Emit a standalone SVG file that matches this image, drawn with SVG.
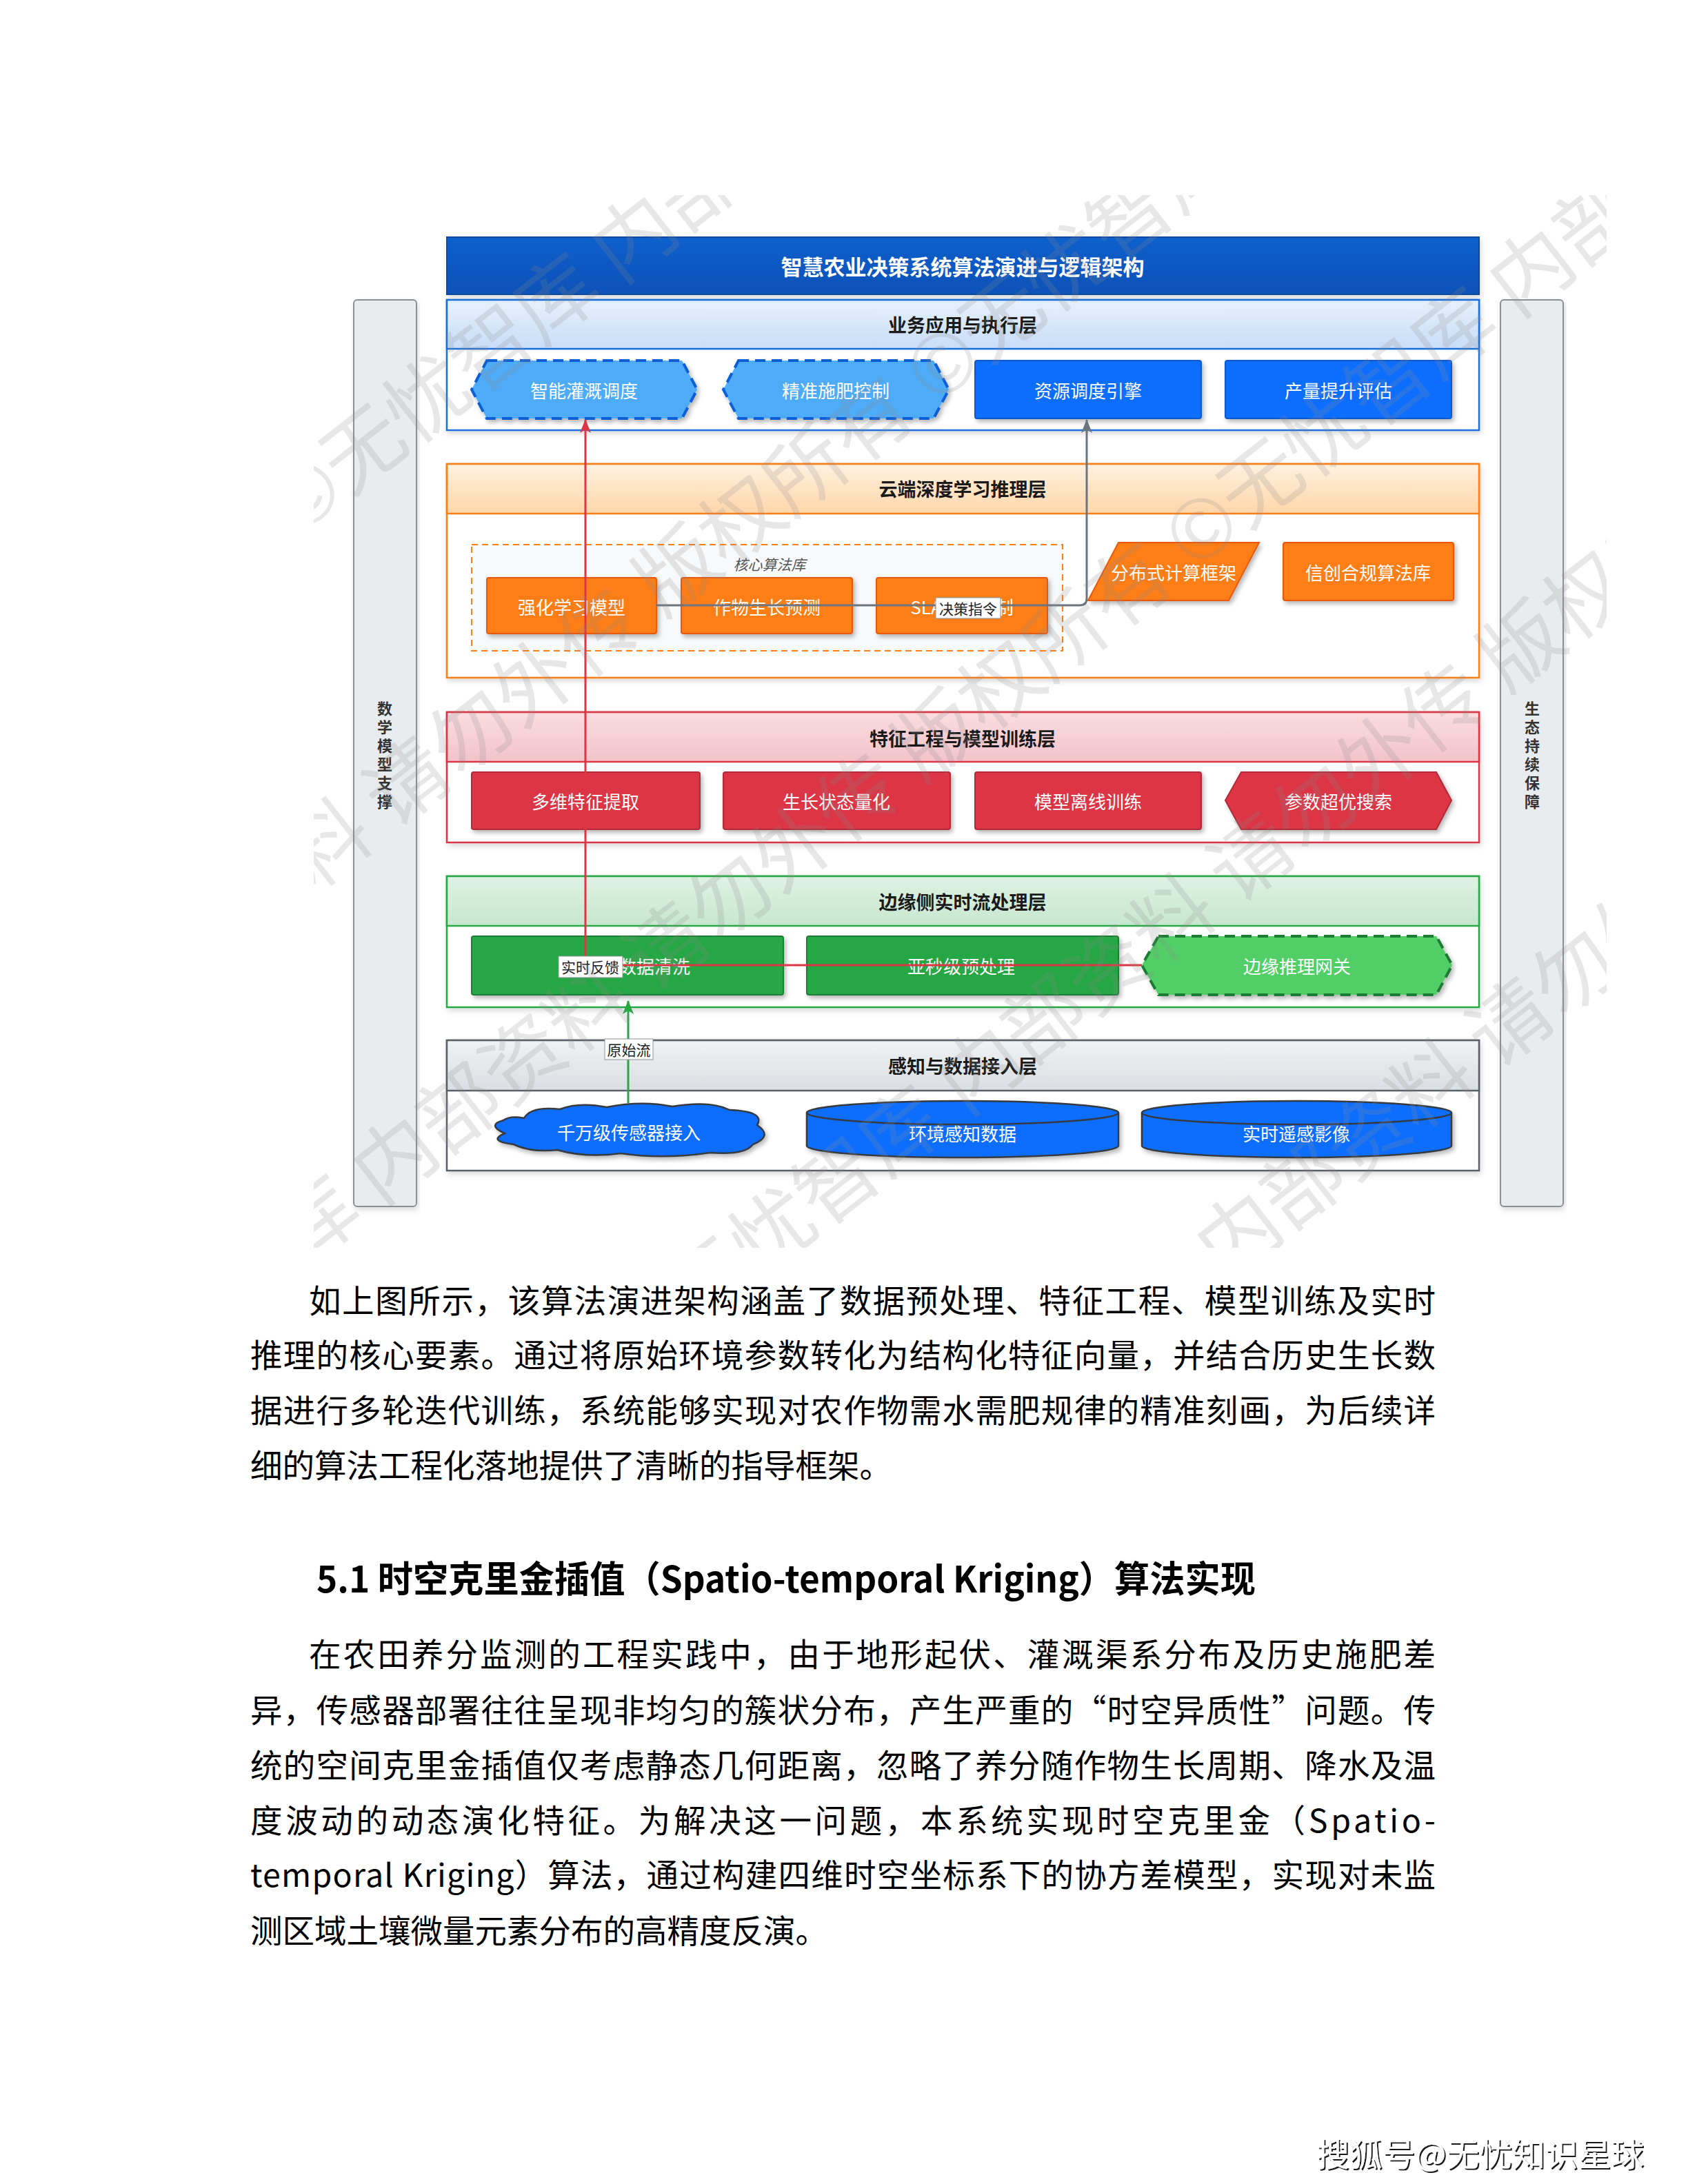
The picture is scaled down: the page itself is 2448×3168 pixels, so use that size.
<svg xmlns="http://www.w3.org/2000/svg" width="2448" height="3168" viewBox="0 0 2448 3168">
<defs>
  <style>
    text { font-family: "Noto Sans CJK SC", "Noto Sans", sans-serif; }
    .nt { font-size: 26px; fill: #ffffff; text-anchor: middle; dominant-baseline: central; }
    .ht { font-size: 27px; font-weight: bold; fill: #1a1a1a; text-anchor: middle; dominant-baseline: central; }
    .vt { font-size: 22px; font-weight: bold; fill: #333333; text-anchor: middle; dominant-baseline: central; }
    .lb { font-size: 21px; fill: #222222; text-anchor: middle; dominant-baseline: central; }
    .lbbox { fill: #ffffff; stroke: #8a939c; stroke-width: 1; }
    .para { font-size: 46.5px; fill: #000000; dominant-baseline: central; }
    .wm { font-size: 118px; fill: #8c8c8c; }
    .cont { fill: #ffffff; stroke-width: 2.5; }
    .side { fill: #E9ECEF; stroke: #8A9096; stroke-width: 2; }
    .conn { fill: none; stroke-width: 3; }
  </style>
  <filter id="sh" x="-10%" y="-20%" width="125%" height="150%">
    <feDropShadow dx="3" dy="4" stdDeviation="3" flood-color="#000" flood-opacity="0.28"/>
  </filter>
  <filter id="shc" x="-5%" y="-10%" width="110%" height="125%">
    <feDropShadow dx="2" dy="4" stdDeviation="4" flood-color="#000" flood-opacity="0.15"/>
  </filter>
  <filter id="wmsh" x="-5%" y="-20%" width="110%" height="150%">
    <feDropShadow dx="2" dy="2" stdDeviation="0.6" flood-color="#000" flood-opacity="0.9"/>
  </filter>
  <linearGradient id="gBlue" x1="0" y1="0" x2="0" y2="1"><stop offset="0" stop-color="#E6F0FC"/><stop offset="1" stop-color="#C8DDF7"/></linearGradient>
  <linearGradient id="gOrange" x1="0" y1="0" x2="0" y2="1"><stop offset="0" stop-color="#FFF1E0"/><stop offset="1" stop-color="#FFD6AA"/></linearGradient>
  <linearGradient id="gRed" x1="0" y1="0" x2="0" y2="1"><stop offset="0" stop-color="#FADDE1"/><stop offset="1" stop-color="#F2C3CA"/></linearGradient>
  <linearGradient id="gGreen" x1="0" y1="0" x2="0" y2="1"><stop offset="0" stop-color="#DFF2E4"/><stop offset="1" stop-color="#C7E7CF"/></linearGradient>
  <linearGradient id="gGray" x1="0" y1="0" x2="0" y2="1"><stop offset="0" stop-color="#F0F2F4"/><stop offset="1" stop-color="#DADEE2"/></linearGradient>
  <linearGradient id="gTitle" x1="0" y1="0" x2="0" y2="1"><stop offset="0" stop-color="#0E5FCC"/><stop offset="1" stop-color="#0A52B8"/></linearGradient>
  <marker id="arR" viewBox="0 0 20 16" refX="19" refY="8" markerWidth="20" markerHeight="16" markerUnits="userSpaceOnUse" orient="auto">
    <path d="M0,0 L20,8 L0,16 L5,8 Z" fill="#DC3545"/>
  </marker>
  <marker id="arG" viewBox="0 0 20 16" refX="19" refY="8" markerWidth="20" markerHeight="16" markerUnits="userSpaceOnUse" orient="auto">
    <path d="M0,0 L20,8 L0,16 L5,8 Z" fill="#6C757D"/>
  </marker>
  <marker id="arN" viewBox="0 0 20 16" refX="19" refY="8" markerWidth="20" markerHeight="16" markerUnits="userSpaceOnUse" orient="auto">
    <path d="M0,0 L20,8 L0,16 L5,8 Z" fill="#28A745"/>
  </marker>
  <clipPath id="wmclip"><rect x="455" y="283" width="1875" height="1527"/></clipPath>
</defs>

<rect x="0" y="0" width="2448" height="3168" fill="#ffffff"/>

<!-- side bars -->
<g id="side-left">
  <rect class="side" x="513" y="435" width="91" height="1315" rx="5" filter="url(#shc)"/>
  <text class="vt" x="558"><tspan x="558" y="1026">数</tspan><tspan x="558" y="1053">学</tspan><tspan x="558" y="1080">模</tspan><tspan x="558" y="1107">型</tspan><tspan x="558" y="1134">支</tspan><tspan x="558" y="1161">撑</tspan></text>
</g>
<g id="side-right">
  <rect class="side" x="2176" y="435" width="91" height="1315" rx="5" filter="url(#shc)"/>
  <text class="vt" x="2222"><tspan x="2222" y="1026">生</tspan><tspan x="2222" y="1053">态</tspan><tspan x="2222" y="1080">持</tspan><tspan x="2222" y="1107">续</tspan><tspan x="2222" y="1134">保</tspan><tspan x="2222" y="1161">障</tspan></text>
</g>

<!-- title -->
<g id="title">
  <rect x="648" y="344" width="1497" height="83" fill="url(#gTitle)" stroke="#0A4A9E" stroke-width="2" filter="url(#shc)"/>
  <text x="1396" y="385" font-size="31" font-weight="bold" fill="#ffffff" text-anchor="middle" dominant-baseline="central">智慧农业决策系统算法演进与逻辑架构</text>
</g>

<!-- layers -->
<g id="layer-biz">
  <rect class="cont" x="648" y="435" width="1497" height="189" stroke="#1C6FD8" filter="url(#shc)"/>
  <rect x="648" y="435" width="1497" height="71" fill="url(#gBlue)" stroke="#1C6FD8" stroke-width="2.5"/>
  <text class="ht" x="1396" y="470">业务应用与执行层</text>
</g>
<g id="layer-cloud">
  <rect class="cont" x="648" y="673" width="1497" height="310" stroke="#FD7E14" filter="url(#shc)"/>
  <rect x="648" y="673" width="1497" height="72" fill="url(#gOrange)" stroke="#FD7E14" stroke-width="2.5"/>
  <text class="ht" x="1396" y="708">云端深度学习推理层</text>
</g>
<g id="layer-feature">
  <rect class="cont" x="648" y="1033" width="1497" height="189" stroke="#DC3545" filter="url(#shc)"/>
  <rect x="648" y="1033" width="1497" height="72" fill="url(#gRed)" stroke="#DC3545" stroke-width="2.5"/>
  <text class="ht" x="1396" y="1070">特征工程与模型训练层</text>
</g>
<g id="layer-edge">
  <rect class="cont" x="648" y="1271" width="1497" height="190" stroke="#28A745" filter="url(#shc)"/>
  <rect x="648" y="1271" width="1497" height="72" fill="url(#gGreen)" stroke="#28A745" stroke-width="2.5"/>
  <text class="ht" x="1396" y="1307">边缘侧实时流处理层</text>
</g>
<g id="layer-sense">
  <rect class="cont" x="648" y="1509" width="1497" height="189" stroke="#5A6169" filter="url(#shc)"/>
  <rect x="648" y="1509" width="1497" height="73" fill="url(#gGray)" stroke="#5A6169" stroke-width="2.5"/>
  <text class="ht" x="1396" y="1545">感知与数据接入层</text>
</g>

<!-- business nodes -->
<g id="n-irrigation">
  <polygon points="706,523 989,523 1011,565 989,607 706,607 684,565" fill="#4DABF7" stroke="#0B5ED7" stroke-width="4" stroke-dasharray="15 9" filter="url(#sh)"/>
  <text class="nt" x="847" y="565">智能灌溉调度</text>
</g>
<g id="n-fertilize">
  <polygon points="1071,523 1354,523 1376,565 1354,607 1071,607 1049,565" fill="#4DABF7" stroke="#0B5ED7" stroke-width="4" stroke-dasharray="15 9" filter="url(#sh)"/>
  <text class="nt" x="1212" y="565">精准施肥控制</text>
</g>
<g id="n-resource">
  <rect x="1414" y="523" width="328" height="84" rx="3" fill="#0D6EFD" stroke="#0A58CA" stroke-width="2" filter="url(#sh)"/>
  <text class="nt" x="1578" y="565">资源调度引擎</text>
</g>
<g id="n-yield">
  <rect x="1777" y="523" width="328" height="84" rx="3" fill="#0D6EFD" stroke="#0A58CA" stroke-width="2" filter="url(#sh)"/>
  <text class="nt" x="1941" y="565">产量提升评估</text>
</g>

<!-- cloud nodes -->
<g id="g-core-lib">
  <rect x="684" y="790" width="857" height="154" fill="#F8F9FA" stroke="#FD7E14" stroke-width="2" stroke-dasharray="9 6"/>
  <text x="1116" y="818" font-size="21" font-style="italic" fill="#555555" text-anchor="middle" dominant-baseline="central">核心算法库</text>
</g>
<g id="n-rl">
  <rect x="706" y="838" width="246" height="81" rx="3" fill="#FD7E14" stroke="#E8590C" stroke-width="2" filter="url(#sh)"/>
  <text class="nt" x="829" y="879">强化学习模型</text>
</g>
<g id="n-growth">
  <rect x="988" y="838" width="248" height="81" rx="3" fill="#FD7E14" stroke="#E8590C" stroke-width="2" filter="url(#sh)"/>
  <text class="nt" x="1112" y="879">作物生长预测</text>
</g>
<g id="n-sla">
  <rect x="1271" y="838" width="248" height="81" rx="3" fill="#FD7E14" stroke="#E8590C" stroke-width="2" filter="url(#sh)"/>
  <text class="nt" x="1395" y="879">SLA约束控制</text>
</g>
<g id="n-distributed">
  <polygon points="1622,787 1826,787 1782,871 1578,871" fill="#FD7E14" stroke="#E8590C" stroke-width="2" filter="url(#sh)"/>
  <text class="nt" x="1702" y="829">分布式计算框架</text>
</g>
<g id="n-xinchuang">
  <rect x="1861" y="787" width="247" height="84" rx="3" fill="#FD7E14" stroke="#E8590C" stroke-width="2" filter="url(#sh)"/>
  <text class="nt" x="1984" y="829">信创合规算法库</text>
</g>

<!-- feature nodes -->
<g id="n-multifeat">
  <rect x="684" y="1120" width="331" height="83" rx="3" fill="#DC3545" stroke="#B02A37" stroke-width="2" filter="url(#sh)"/>
  <text class="nt" x="849" y="1161">多维特征提取</text>
</g>
<g id="n-growthq">
  <rect x="1049" y="1120" width="329" height="83" rx="3" fill="#DC3545" stroke="#B02A37" stroke-width="2" filter="url(#sh)"/>
  <text class="nt" x="1213" y="1161">生长状态量化</text>
</g>
<g id="n-offline">
  <rect x="1414" y="1120" width="328" height="83" rx="3" fill="#DC3545" stroke="#B02A37" stroke-width="2" filter="url(#sh)"/>
  <text class="nt" x="1578" y="1161">模型离线训练</text>
</g>
<g id="n-hyper">
  <polygon points="1800,1120 2083,1120 2105,1161 2083,1203 1800,1203 1777,1161" fill="#DC3545" stroke="#B02A37" stroke-width="2" filter="url(#sh)"/>
  <text class="nt" x="1941" y="1161">参数超优搜索</text>
</g>

<!-- edge nodes -->
<g id="n-clean">
  <rect x="684" y="1358" width="452" height="85" rx="3" fill="#28A745" stroke="#1E7E34" stroke-width="2" filter="url(#sh)"/>
  <text class="nt" x="910" y="1400">实时流数据清洗</text>
</g>
<g id="n-preproc">
  <rect x="1170" y="1358" width="452" height="85" rx="3" fill="#28A745" stroke="#1E7E34" stroke-width="2" filter="url(#sh)"/>
  <text class="nt" x="1394" y="1400">亚秒级预处理</text>
</g>
<g id="n-gateway">
  <polygon points="1680,1358 2083,1358 2106,1400 2083,1443 1680,1443 1656,1400" fill="#51CF66" stroke="#1E7B34" stroke-width="4" stroke-dasharray="15 9" filter="url(#sh)"/>
  <text class="nt" x="1881" y="1400">边缘推理网关</text>
</g>

<!-- perception nodes -->
<g id="n-sensors">
  <path d="M760,1622 Q770,1604 812,1609 Q840,1598 880,1606 Q930,1596 975,1605 Q1030,1596 1058,1610 Q1110,1612 1098,1632 Q1122,1648 1092,1660 Q1080,1676 1030,1672 Q960,1682 900,1673 Q850,1680 808,1668 Q770,1672 745,1660 Q706,1655 732,1644 Q705,1632 730,1625 Q740,1618 760,1622 Z" fill="#0D6EFD" stroke="#343A40" stroke-width="2.5" filter="url(#sh)"/>
  <text class="nt" x="912" y="1641">千万级传感器接入</text>
</g>
<g id="n-envdata">
  <path d="M1170,1614 A226,17 0 0,1 1622,1614 V1662 A226,17 0 0,1 1170,1662 Z" fill="#0D6EFD" stroke="#343A40" stroke-width="2.5" filter="url(#sh)"/>
  <path d="M1170,1614 A226,17 0 0,0 1622,1614" fill="none" stroke="#343A40" stroke-width="2.5"/>
  <text class="nt" x="1396" y="1643">环境感知数据</text>
</g>
<g id="n-remote">
  <path d="M1656,1614 A224.5,17 0 0,1 2105,1614 V1662 A224.5,17 0 0,1 1656,1662 Z" fill="#0D6EFD" stroke="#343A40" stroke-width="2.5" filter="url(#sh)"/>
  <path d="M1656,1614 A224.5,17 0 0,0 2105,1614" fill="none" stroke="#343A40" stroke-width="2.5"/>
  <text class="nt" x="1880" y="1643">实时遥感影像</text>
</g>

<!-- connectors -->
<g id="connectors">
  <path class="conn" d="M952,878 H1566 Q1576,878 1576,868 V609" stroke="#6C757D" marker-end="url(#arG)"/>
  <path class="conn" d="M1656,1400 H849 V609" stroke="#DC3545" marker-end="url(#arR)"/>
  <path class="conn" d="M911,1600 V1452" stroke="#28A745" marker-end="url(#arN)"/>
  <rect class="lbbox" x="1357" y="867" width="94" height="30"/>
  <text class="lb" x="1404" y="882">决策指令</text>
  <rect class="lbbox" x="810" y="1387" width="93" height="31"/>
  <text class="lb" x="856" y="1402">实时反馈</text>
  <rect class="lbbox" x="877" y="1507" width="70" height="30"/>
  <text class="lb" x="912" y="1522">原始流</text>
</g>

<!-- background watermark -->
<g id="watermark" clip-path="url(#wmclip)" opacity="0.2">
  <g transform="rotate(-38 1390 1045)">
    <text class="wm" x="-700" y="245">内部资料 请勿外传 版权所有 ©无忧智库 内部资料 请勿外传 版权所有</text>
    <text class="wm" x="-450" y="665">©无忧智库 内部资料 请勿外传 版权所有 ©无忧智库 内部资料 请勿外传</text>
    <text class="wm" x="-800" y="1085">版权所有 ©无忧智库 内部资料 请勿外传 版权所有 ©无忧智库 内部资料</text>
    <text class="wm" x="-550" y="1505">请勿外传 版权所有 ©无忧智库 内部资料 请勿外传 版权所有 ©无忧智库</text>
    <text class="wm" x="-900" y="1925">内部资料 请勿外传 版权所有 ©无忧智库 内部资料 请勿外传 版权所有</text>
    <text class="wm" x="-650" y="-175">©无忧智库 内部资料 请勿外传 版权所有 ©无忧智库 内部资料 请勿外传</text>
  </g>
</g>

<!-- body text -->
<g id="text-body">
  <text class="para" x="448" y="1883" textLength="1634" lengthAdjust="spacing">如上图所示，该算法演进架构涵盖了数据预处理、特征工程、模型训练及实时</text>
  <text class="para" x="363" y="1962" textLength="1719" lengthAdjust="spacing">推理的核心要素。通过将原始环境参数转化为结构化特征向量，并结合历史生长数</text>
  <text class="para" x="363" y="2042" textLength="1719" lengthAdjust="spacing">据进行多轮迭代训练，系统能够实现对农作物需水需肥规律的精准刻画，为后续详</text>
  <text class="para" x="363" y="2122">细的算法工程化落地提供了清晰的指导框架。</text>

  <text x="459" y="2287" font-size="53" font-weight="bold" fill="#000000" dominant-baseline="central" textLength="1362" lengthAdjust="spacingAndGlyphs">5.1 时空克里金插值（Spatio-temporal Kriging）算法实现</text>

  <text class="para" x="448" y="2396" textLength="1634" lengthAdjust="spacing">在农田养分监测的工程实践中，由于地形起伏、灌溉渠系分布及历史施肥差</text>
  <text class="para" x="363" y="2477" textLength="1719" lengthAdjust="spacing">异，传感器部署往往呈现非均匀的簇状分布，产生严重的“时空异质性”问题。传</text>
  <text class="para" x="363" y="2557" textLength="1719" lengthAdjust="spacing">统的空间克里金插值仅考虑静态几何距离，忽略了养分随作物生长周期、降水及温</text>
  <text class="para" x="363" y="2637" textLength="1719" lengthAdjust="spacing">度波动的动态演化特征。为解决这一问题，本系统实现时空克里金（Spatio-</text>
  <text class="para" x="363" y="2716" textLength="1719" lengthAdjust="spacing">temporal Kriging）算法，通过构建四维时空坐标系下的协方差模型，实现对未监</text>
  <text class="para" x="363" y="2797">测区域土壤微量元素分布的高精度反演。</text>
</g>

<!-- footer watermark -->
<g id="footer-mark">
  <text x="1909" y="3121" font-size="47" fill="#ffffff" dominant-baseline="central" textLength="475" lengthAdjust="spacingAndGlyphs" filter="url(#wmsh)">搜狐号@无忧知识星球</text>
</g>
</svg>
